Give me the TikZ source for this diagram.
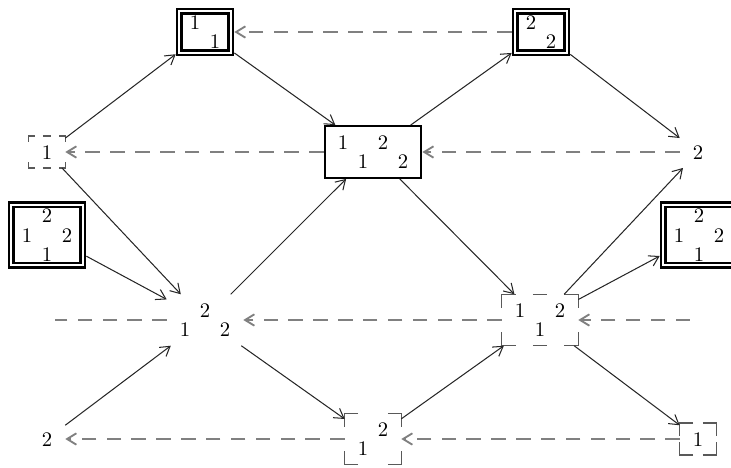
\documentclass[tikz,border=0pt]{standalone}
\usepackage{array}
\usetikzlibrary{arrows.meta}

\newcommand{\digits}[2]{{\renewcommand{\arraystretch}{0.77}%
  \raisebox{-1.5pt}[\height][\depth]{\begin{tabular}{*{#1}{@{}wc{9.66pt}@{}}}#2\end{tabular}}}}
% dashed corners of a frame, arm length #2
\newcommand{\frm}[2]{%
  \draw[fr] ([xshift=#2]#1.north west) -| ([yshift=-#2]#1.north west);
  \draw[fr] ([xshift=-#2]#1.north east) -| ([yshift=-#2]#1.north east);
  \draw[fr] ([xshift=#2]#1.south west) -| ([yshift=#2]#1.south west);
  \draw[fr] ([xshift=-#2]#1.south east) -| ([yshift=#2]#1.south east);}
\newcommand{\frmmid}[2]{%
  \draw[fr] ([xshift=-#2]#1.north) -- ([xshift=#2]#1.north);
  \draw[fr] ([xshift=-#2]#1.south) -- ([xshift=#2]#1.south);}

\tikzset{
  dbox/.style={draw, double, line width=1.3pt, double distance=1pt, inner xsep=2.7pt, inner ysep=0.5pt, outer sep=1.8pt},
  sbox/.style={draw, line width=1.1pt, inner xsep=4pt, inner ysep=3pt, outer sep=0.55pt},
  pbox/.style={inner xsep=4pt, inner ysep=3pt, outer sep=0pt},
  fr/.style={draw=black!65, line width=0.6pt},
  conn/.style={->, line width=0.5pt, black!85},
  back/.style={->, gray, line width=0.9pt, dash pattern=on 7pt off 5pt},
  >={Straight Barb[length=4.5pt,width=5.5pt]}
}

\begin{document}
\begin{tikzpicture}[x=0.483pt, y=-0.483pt]
\useasboundingbox (0,0) rectangle (731,468);
\coordinate (rowl) at (55,320);
\coordinate (rowr) at (690,320);
\node[dbox] (A) at (205,32) {\digits{2}{1&\\&1}};
\node[dbox] (B) at (541,32) {\digits{2}{2&\\&2}};
\node[pbox] (C) at (47,152) {\digits{1}{1}};
\node[sbox] (D) at (373,152) {\digits{4}{1&&2&\\&1&&2}};
\node[pbox] (E) at (698,152) {\digits{1}{2}};
\node[dbox] (F) at (47,235) {\digits{3}{&2&\\1&&2\\&1&}};
\node[dbox] (G) at (699,235) {\digits{3}{&2&\\1&&2\\&1&}};
\node[pbox] (H) at (205,320) {\digits{3}{&2&\\1&&2}};
\node[pbox] (I) at (540,320) {\digits{3}{1&&2\\&1&}};
\node[pbox] (J) at (47,439) {\digits{1}{2}};
\node[pbox] (K) at (373,439) {\digits{2}{&2\\1&}};
\node[pbox] (L) at (698,439) {\digits{1}{1}};
\frm{C}{3pt}
\frmmid{C}{2pt}
\frm{I}{6.8pt}
\frmmid{I}{3.5pt}
\frm{K}{6.5pt}
\frm{L}{6.5pt}
% solid arrows
\draw[conn] (C) -- (A);
\draw[conn] (A) -- (D);
\draw[conn] (D) -- (B);
\draw[conn] (B) -- (E);
\draw[conn] (C) -- (H);
\draw[conn] (F) -- (H);
\draw[conn] (H) -- (D);
\draw[conn] (D) -- (I);
\draw[conn] (I) -- (E);
\draw[conn] (I) -- (G);
\draw[conn] (J) -- (H);
\draw[conn] (H) -- (K);
\draw[conn] (K) -- (I);
\draw[conn] (I) -- (L);
% dashed rows
\draw[back] (B) -- (A);
\draw[back] (E) -- (D);
\draw[back] (D) -- (C);
\draw[back] (rowr) -- (I);
\draw[back] (I) -- (H);
\draw[back,-] (H) -- (rowl);
\draw[back] (L) -- (K);
\draw[back] (K) -- (J);
\end{tikzpicture}
\end{document}
